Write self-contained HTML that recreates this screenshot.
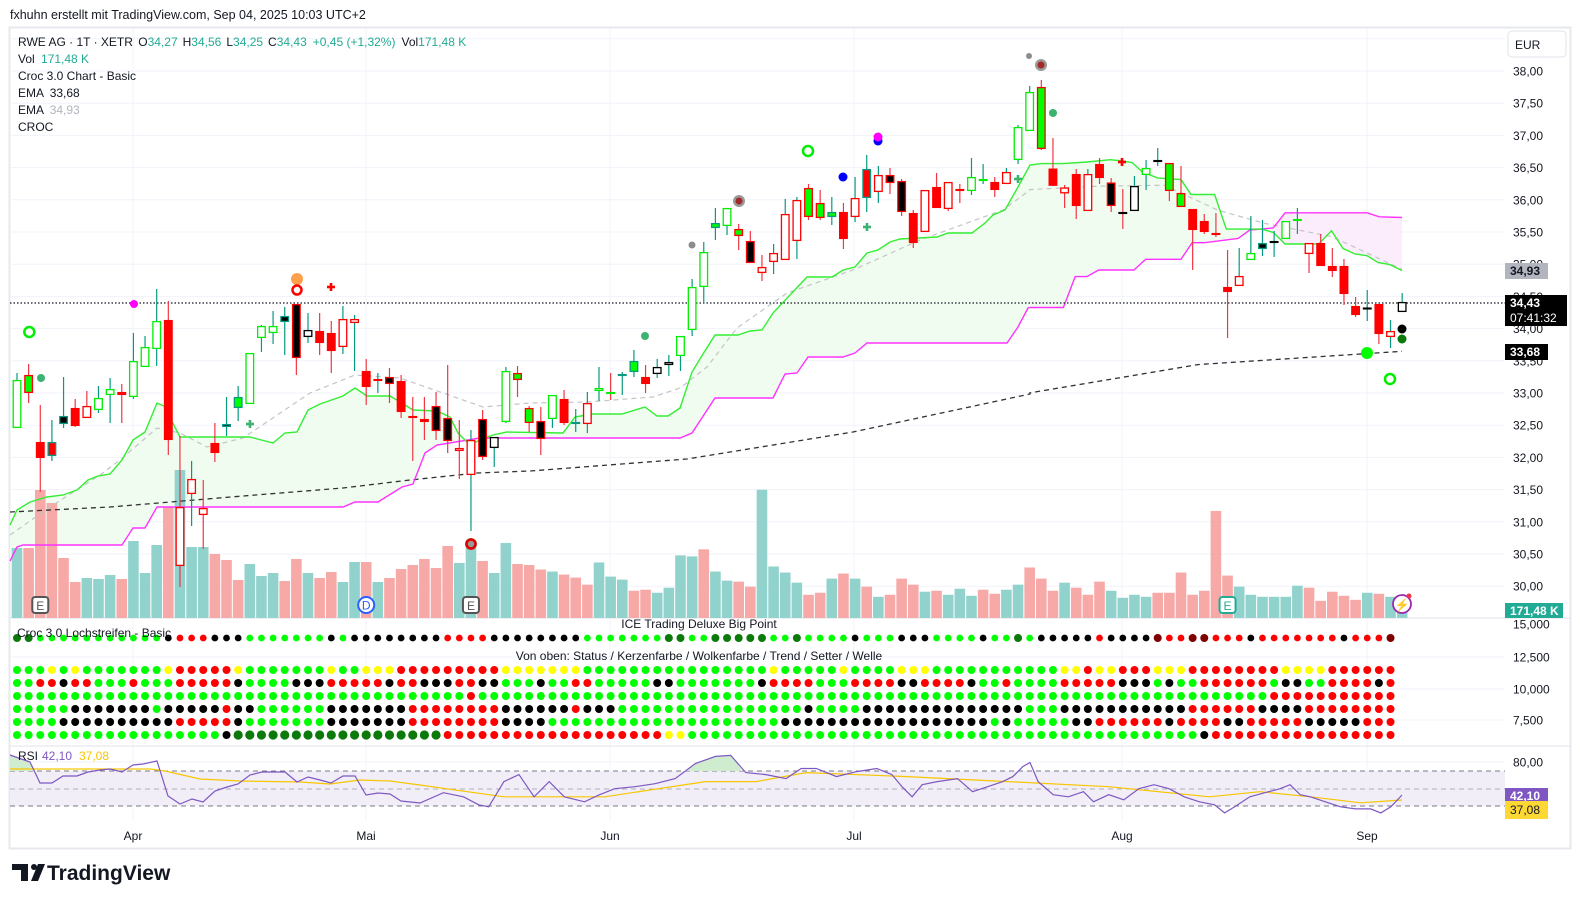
<!DOCTYPE html>
<html><head><meta charset="utf-8">
<style>
html,body{margin:0;padding:0;background:#fff;width:1580px;height:909px;overflow:hidden;font-family:"Liberation Sans",sans-serif;}
svg text{font-family:"Liberation Sans",sans-serif;}
</style></head>
<body>
<svg id="s" width="1580" height="909" xmlns="http://www.w3.org/2000/svg">
<rect x="0" y="0" width="1580" height="909" fill="#fff"/>
<text x="10" y="19" font-size="12.5" fill="#131722">fxhuhn erstellt mit TradingView.com, Sep 04, 2025 10:03 UTC+2</text>
<rect x="9.5" y="27.5" width="1561" height="821" fill="#fff" stroke="#e6e8ee" stroke-width="2"/>
<g id="grid"></g>
<g id="fills"></g>
<g id="vol"></g>
<g id="lines"></g>
<g id="candles"></g>
<g id="marks"></g>
<g id="ind"></g>
<g id="rsi"></g>
<g id="axis"></g>
<g id="legend" font-size="12" fill="#131722">
<text x="18" y="46">RWE AG · 1T · XETR <tspan dx="2">O</tspan><tspan fill="#22ab94">34,27</tspan><tspan dx="5">H</tspan><tspan fill="#22ab94">34,56</tspan><tspan dx="5">L</tspan><tspan fill="#22ab94">34,25</tspan><tspan dx="5">C</tspan><tspan fill="#22ab94">34,43</tspan><tspan dx="6" fill="#22ab94">+0,45 (+1,32%)</tspan><tspan dx="6">Vol</tspan><tspan fill="#22ab94">171,48 K</tspan></text>
<text x="18" y="63">Vol <tspan dx="3" fill="#22ab94">171,48 K</tspan></text>
<text x="18" y="80">Croc 3.0 Chart - Basic</text>
<text x="18" y="97">EMA <tspan dx="3">33,68</tspan></text>
<text x="18" y="114">EMA <tspan dx="3" fill="#b2b5be">34,93</tspan></text>
<text x="18" y="131">CROC</text>
</g>
<g>
<rect x="1508" y="31" width="58" height="26" rx="4" fill="#fff" stroke="#e0e3eb"/>
<text x="1515" y="49" font-size="12" fill="#131722">EUR</text>
</g>
<g transform="translate(12,864)" fill="#131722">
<rect x="0" y="0" width="16" height="6"/><rect x="9" y="0" width="7" height="17"/>
<circle cx="22" cy="3" r="3"/><polygon points="26,0 33,0 26,17 19,17"/>
</g>
<text x="47" y="880" font-size="21" font-weight="bold" fill="#131722">TradingView</text>
</svg>
<script>
var NS="http://www.w3.org/2000/svg";
function el(p,t,a,txt){var e=document.createElementNS(NS,t);for(var k in a)e.setAttribute(k,a[k]);if(txt!==undefined)e.textContent=txt;document.getElementById(p).appendChild(e);return e;}
var S=11.64;function bx(i){return 17+i*S;}
function yp(p){return 71+(38-p)*64.4;}
function fx(x){return 17+(x-17)*1.008;}
function fy(y){return y+(y-70)*0.008+1;}
function z3(p){return [1402-(1108-p[0])/2.977,135.4+(p[1]-15)/3.01];}
for(var p=30;p<=38.5;p+=0.5){var y=yp(p);el('grid','line',{x1:10,x2:1505,y1:y,y2:y,stroke:'#f0f3fa'});}
[657,689,720].forEach(function(y){el('grid','line',{x1:10,x2:1505,y1:y,y2:y,stroke:'#f0f3fa'});});
el('grid','line',{x1:10,x2:1505,y1:762,y2:762,stroke:'#f0f3fa'});
var months=[["Apr",133],["Mai",366],["Jun",610],["Jul",854],["Aug",1122],["Sep",1367]];
months.forEach(function(m){el('grid','line',{x1:m[1],x2:m[1],y1:28,y2:820,stroke:'#f0f3fa'});el('axis','text',{x:m[1],y:840,'font-size':12,'text-anchor':'middle',fill:'#131722'},m[0]);});
el('grid','line',{x1:10,x2:1570,y1:618,y2:618,stroke:'#e0e3eb'});
el('grid','line',{x1:10,x2:1570,y1:746,y2:746,stroke:'#e0e3eb'});
var G=[[10,525],[17,510],[30,502],[47,497],[63,495],[77,490],[88,480],[98,476],[110,474],[122,460],[133,440],[145,432],[157,403],[164,406],[180,437],[250,437],[273,443],[285,433],[297,432],[308,410],[320,404],[343,396],[355,388],[367,396],[390,396],[402,403],[413,410],[437,411],[450,417],[458,433],[470,445],[482,439],[493,435],[507,432],[563,433],[575,417],[592,414],[622,414],[645,407],[657,416],[668,416],[680,408],[692,372],[703,354],[715,335],[738,335],[750,331],[762,330],[773,313],[807,277],[832,277],[843,270],[855,267],[867,253],[878,250],[890,242],[900,239],[937,237],[948,233],[972,233],[985,223],[993,215],[1005,210],[1018,187],[1030,165]];
[[35,100],[100,100],[170,95],[240,88],[275,92],[305,97],[335,125],[380,143],[450,148],[480,193],[550,193],[585,297],[655,297],[690,297],[725,307],[760,342],[860,342],[898,302],[932,355],[968,372],[1004,377],[1037,398],[1072,404],[1108,422]].forEach(function(p){G.push(z3(p));});
var M=[[10,561],[17,547],[23,545],[122,545],[133,528],[145,528],[157,507],[343,507],[355,502],[378,502],[402,487],[413,484],[425,453],[437,445],[480,438],[680,438],[692,433],[715,398],[773,398],[785,374],[797,373],[808,357],[843,357],[855,353],[867,343],[1007,343],[1018,327],[1028,308]];
[[0,533],[100,533],[135,440],[170,440],[205,420],[310,420],[345,388],[450,388],[483,338],[520,338],[620,325],[655,300],[690,297],[725,293],[760,248],[1004,248],[1040,260],[1108,262]].forEach(function(p){M.push(z3(p));});
var E1=[[10,535],[50,507],[100,475],[120,460],[157,428],[180,433],[207,447],[243,438],[310,393],[355,375],[400,378],[483,407],[530,403],[587,402],[653,397],[680,388],[707,367],[737,328],[787,293],[853,270],[920,240],[1003,210],[1030,190]];
[[0,178],[200,168],[400,165],[560,240],[700,280],[900,320],[1108,418]].forEach(function(p){E1.push(z3(p));});
var E2=[[10,512],[110,507],[243,496],[343,488],[410,480],[477,473],[530,471],[687,459],[853,432],[1030,394]];
[[0,790],[500,705],[1108,665]].forEach(function(p){E2.push(z3(p));});
function pts(a){return a.map(function(p){return p[0].toFixed(1)+','+p[1].toFixed(1);}).join(' ');}
el('fills','polygon',{points:pts(G.concat(M.slice().reverse())),fill:'#f1fcf1'});
var pm=[[690,297],[725,293],[760,248],[1004,248],[1040,260],[1108,262],[1108,422],[1072,404],[1037,398],[1004,377],[968,372],[932,355],[898,302],[860,342],[760,342],[725,307]].map(z3);
el('fills','polygon',{points:pts(pm),fill:'#fcedfc'});
var VA=[548,548,490,503,558,582,578,579,575,579,541,573,545,507,470,547,547,554,560,580,564,576,573,581,559,573,578,572,582,562,562,582,578,569,565,559,568,546,563,546,561,573,543,564,565];
var VB=[[565,'r'],[567,'t'],[570,'r'],[573,'r'],[580,'r'],[558,'t'],[572,'t'],[575,'t'],[586,'r'],[585,'r'],[588,'t'],[583,'t'],[551,'t'],[552,'t'],[545,'r'],[567,'t'],[576,'t'],[577,'r'],[582,'r'],[486,'t'],[562,'t'],[568,'t'],[578,'t'],[590,'r'],[588,'r'],[574,'t'],[569,'r'],[574,'t'],[582,'r'],[592,'t'],[590,'r'],[574,'r'],[580,'r'],[587,'t'],[586,'r'],[590,'t'],[584,'t'],[591,'t'],[585,'r'],[589,'r'],[585,'t'],[580,'t'],[563,'r'],[574,'r'],[586,'r'],[578,'t'],[583,'r'],[590,'r'],[577,'r'],[586,'t'],[593,'t'],[590,'t'],[592,'t'],[588,'r'],[588,'r'],[568,'r'],[590,'r'],[586,'r'],[507,'r'],[571,'r'],[582,'t'],[590,'t'],[592,'t'],[592,'t'],[592,'t'],[581,'t'],[583,'r'],[596,'r'],[587,'r'],[591,'r'],[595,'r'],[588,'t'],[589,'r'],[592,'t'],[598,'t']];
var c45=['t','r','r','r','r','r','t','t','t','r','t','t','t','r','t','t','t','r','r','r','t','t','t','r','r','t','r','r','t','t','r','t','r','r','r','r','r','r','t','t','r','t','t','r','r'];
for(var i=0;i<120;i++){var vt,vc;if(i<45){vt=VA[i];vc=c45[i];}else{var v=VB[i-45]||[598,'t'];vt=618-(613-v[0])*1.01;vc=v[1];}
el('vol','rect',{x:bx(i)-5.3,y:vt,width:10.6,height:618-vt,fill:vc=='t'?'#92d2cc':'#f7a9a7'});}
el('lines','polyline',{points:pts(E2),fill:'none',stroke:'#333','stroke-width':1.3,'stroke-dasharray':'5,4'});
el('lines','polyline',{points:pts(E1),fill:'none',stroke:'#c4c4c4','stroke-width':1.2,'stroke-dasharray':'5,4'});
el('lines','polyline',{points:pts(M),fill:'none',stroke:'#ff33ff','stroke-width':1.4});
el('lines','polyline',{points:pts(G),fill:'none',stroke:'#33ee33','stroke-width':1.4});
el('lines','line',{x1:10,x2:1505,y1:303,y2:303,stroke:'#131722','stroke-dasharray':'1.5,2','stroke-width':1.2});
var C=`380,428,373,428,W,g,t
375,393,364,403,G,r,r
442,458,405,492,R,r,r
442,456,420,461,R,t,t
416,424,377,428,K,t,t
408,426,399,427,R,r,r
406,418,391,418,W,r,r
398,410,386,413,W,g,t
389,395,378,423,W,g,t
392,395,384,423,R,r,r
361,397,333,399,W,g,t
347,367,336,367,W,g,t
321,349,289,366,W,g,t
320,440,301,455,R,r,r
507,566,436,587,W,r,r
479,494,461,526,W,r,t
508,515,480,549,W,r,r
443,453,423,462,R,r,r
424,427,397,436,K,t,t
397,408,386,421,G,t,t
353,404,353,404,W,g,t
326,338,325,352,W,g,t
326,333,311,344,W,g,t
316,322,307,355,K,t,t
304,358,304,375,K,r,r
330,337,313,343,W,k,t
331,343,313,355,R,r,r
333,351,321,373,R,r,r
319,347,306,354,W,r,t
319,323,315,371,W,r,t
371,387,359,405,R,r,r
379,381,373,393,R,r,t
377,384,368,403,K,r,r
381,412,375,418,R,r,r
416,418,397,461,R,r,r
419,422,397,440,R,r,r
406,431,392,440,K,r,r
418,441,365,453,K,r,r
448,451,420,479,W,r,r
440,475,430,531,W,r,t
419,457,410,460,K,r,r
437,448,437,467,W,k,t
371,422,367,423,W,g,t
373,380,366,397,G,r,r
408,423,406,432,G,r,r
421,439,407,455,K,r,r
395,419,395,428,W,g,t
399,423,390,425,R,r,r
422,424,409,432,T,t,t
403,424,392,433,W,r,t
388,391,367,401,W,g,t
392,394,373,400,W,g,r
374,376,372,395,T,t,t
361,372,350,377,G,t,t
377,384,365,393,R,r,r
367,374,359,378,W,k,t
362,365,355,376,W,k,t
336,356,336,371,W,g,t
287,330,279,336,W,g,t
252,287,242,303,W,g,t
223,228,208,240,G,t,t
208,226,208,235,W,g,t
229,236,224,250,G,r,r
241,263,231,263,K,r,r
267,273,255,281,W,r,r
253,262,244,274,W,r,t
214,260,199,260,W,r,t
200,241,197,259,W,r,t
188,217,184,220,G,r,r
203,218,190,220,G,r,r
212,217,197,225,G,t,t
212,239,203,249,R,r,r
198,217,177,222,W,r,t
169,198,155,212,R,t,t
175,192,166,203,W,r,t
175,183,168,194,K,r,r
181,212,179,216,K,r,r
213,243,210,248,R,r,r
190,232,190,232,W,r,r
187,208,173,208,R,r,r
182,209,182,211,W,r,r
189,191,184,203,R,r,r
177,191,158,195,W,g,t
179,181,164,184,G,g,t
182,190,177,197,R,r,r
172,184,168,184,W,r,t
127,160,125,164,W,g,t
92,131,86,131,W,g,t
87,149,80,150,G,r,r
168.6,185.8,138,186,R,r,r
187.5,193.4,185,208,W,r,r
174,206,169,219,R,r,r
174,211,169,211,W,r,t
164,178,158,184,R,r,r
182.5,206,178,212,K,r,r
212,214,189,229,K,k,r
186,211,176,211,W,k,t
168,175,160,190,W,g,t
160,162,148,166,K,k,t
163,191,163,201,G,r,r
193,207,166,207,G,r,r
209,230,209,270,R,r,r
221,232,214,234,R,r,r
233,235,213,237,R,r,r
287,292,250,338,R,r,r
276,286,248,286,W,r,t
253,260,216,260,W,g,t
243,249,220,256,K,t,t
241,243,231,257,W,k,t
221,239,221,239,W,g,t
219,221,208,234,G,g,t
243,254,243,273,W,r,r
243,266,234,266,R,r,r
266,271,248,277,R,r,r
266,294,259,305,R,r,r
306,315,297,317,R,r,r
307.5,309.5,290,321,W,k,t
304,334,304,344,R,r,r
331,337,320,348,W,r,t
302,312,293,312,W,k,t`.split('\n');
var FC={W:'#fff',G:'#00ff00',R:'#ff0000',K:'#000',T:'#089981'},SC={g:'#00ee00',r:'#ff0000',t:'#089981',k:'#000'},WC={t:'#089981',r:'#f23645'};
C.forEach(function(l,i){var a=l.split(',');var t=+a[0],b=+a[1],h=+a[2],lo=+a[3];var x=bx(i);
el('candles','line',{x1:x,x2:x,y1:Math.min(h,t),y2:Math.max(lo,b),stroke:WC[a[6]],'stroke-width':1.2});
if(b-t<2){b=t+2;}
el('candles','rect',{x:x-3.8,y:t+0.6,width:7.6,height:b-t-1.2,fill:FC[a[4]],stroke:SC[a[5]],'stroke-width':1.3});});
function ring(x,y,r,c,w){el('marks','circle',{cx:x,cy:y,r:r,fill:'none',stroke:c,'stroke-width':w||2.5});}
function dot(x,y,r,c){el('marks','circle',{cx:x,cy:y,r:r,fill:c});}
function plus(x,y,c){el('marks','rect',{x:x-4,y:y-1.3,width:8,height:2.6,fill:c});el('marks','rect',{x:x-1.3,y:y-4,width:2.6,height:8,fill:c});}
ring(29.3,332,5,'#00ee00');dot(41,378,4,'#3cb371');dot(134,304,4,'#ff00ff');
dot(297,279,6,'#ff9f4a');ring(297,290,4.5,'#ff0000');plus(331,287,'#ff0000');plus(250,424,'#3cb371');
dot(471,544,6,'#999');ring(471,544,4.5,'#e00000');
dot(645,336,4,'#3cb371');dot(692,245,3.5,'#8c8c8c');dot(739,201,6,'#9a9a9a');dot(739,201,3.5,'#a52a2a');
ring(808,151,5,'#00ee00');dot(843,177,4.5,'#0000ff');dot(878,141,4.5,'#0000ff');dot(878,137,4.5,'#ff00ff');
plus(867,227,'#3cb371');plus(1018,179,'#3cb371');dot(1029,56,3,'#8c8c8c');dot(1041,65,6,'#9a9a9a');dot(1041,65,3.5,'#a52a2a');
dot(1053,113,4,'#3cb371');plus(1122,162,'#ff0000');
dot(1367,353,6,'#00ff00');dot(1402,329,4.5,'#000');dot(1402,339,4.5,'#0b7a0b');ring(1390,379,5,'#00ee00');
function ebox(x,c){el('marks','rect',{x:x-8,y:597,width:16,height:16,rx:3,fill:'#fff',stroke:c,'stroke-width':2});el('marks','text',{x:x,y:610,'font-size':12,'text-anchor':'middle',fill:c},'E');}
ebox(bx(2),'#555');ebox(bx(39),'#555');ebox(bx(104),'#22ab94');
el('marks','circle',{cx:bx(30),cy:605,r:8,fill:'#fff',stroke:'#2962ff','stroke-width':2});el('marks','text',{x:bx(30),y:609.5,'font-size':12,'text-anchor':'middle',fill:'#2962ff'},'D');
el('marks','circle',{cx:1402,cy:604,r:9,fill:'#fff',stroke:'#9c27b0','stroke-width':1.8});el('marks','text',{x:1402,y:609,'font-size':12,'text-anchor':'middle',fill:'#9c27b0'},'⚡');dot(1409,596,2.5,'#f23645');
var IC={G:'#00ff00',D:'#0b7a0b',K:'#000',R:'#ff0000',Y:'#ffff00',M:'#800000'};
function rep(c,n){return new Array(n+1).join(c);}
var rows=[
["DD"+rep("G",11)+"K"+"RRR"+"KKK"+rep("G",7)+"K"+"G"+rep("K",8)+"RRRR"+rep("K",8)+rep("G",7)+"DD"+"GG"+"DDDDDGGDGGGGKGGGKKKGGGGKGGDGKKKKKRKKKKMRRMMRRRKRRRRRRRKRRRMMMMM",638,3.4],
["GGGYGYGGGGGGGYRRRRRYGGGGGGGYGGYYYRRRRRRRRRYYYYYYYGGGGGGGGGGG"+"GGGGGYGGGGGYGGGGYYYGGGGGGGGGGGYYRYYRRRYYYRRRRRRRRYYYYRRRRRRR",670,4],
["GGRRKRRGGGRGGGRRRRRKGGGGKKKRRRRRKRRKKKRRKKGGGKGGRRGGGGGKKGGG"+"GGGGKRRRRGGGRRRRKKRRRRKGGRGGGGRRRRRKKKGKGGRRRRRRGKKGGRRRRKRR",683,4],
[rep("G",39)+"R"+rep("G",20)+rep("G",48)+rep("R",11),696,4],
["GGGGGKKKKKKKGKKKKKRKKGGGGGGKKKKKKKRRRRRRRRKKKKKKRKKKGGGGGGGG"+"GGGGGGGGKGGGGKKKKKKKKKKKKKKGGGKKKKKKKKKKKRRRRRRKKKKRRRRRRRR",709,4],
["GGGGKKKKKKKKKKRRRRRKGGGGGGGKKKKKKKRRRRRRRRKKKKGGGGGGGGGGGGGG"+"GGGGGGKKKKKKKKKKKKKKKKKKGKGGGGGKKRRRRRRKRRRRKKRRRRRKKKKKRRRR",722,4],
[rep("G",18)+"K"+rep("D",18)+rep("R",19)+"YY"+"GG"+rep("G",42)+"K"+rep("R",16),735,4]];
rows.forEach(function(r){var s=r[0];for(var i=0;i<119;i++){var ch=s.charAt(i)||'R';var rr=r[2];if(ch=='M'||ch=='D')rr=r[2]+0.6;el('ind','circle',{cx:bx(i),cy:r[1],r:rr,fill:IC[ch]});}});
el('ind','text',{x:17,y:637,'font-size':12,fill:'#131722'},'Croc 3.0 Lochstreifen - Basic');
el('ind','text',{x:699,y:628,'font-size':12,'text-anchor':'middle',fill:'#131722'},'ICE Trading Deluxe Big Point');
el('ind','text',{x:699,y:660,'font-size':12,'text-anchor':'middle',fill:'#131722'},'Von oben: Status / Kerzenfarbe / Wolkenfarbe / Trend / Setter / Welle');
el('rsi','rect',{x:10,y:771,width:1495,height:35,fill:'#f1eef8'});
[771,789,806].forEach(function(y){el('rsi','line',{x1:10,x2:1505,y1:y,y2:y,stroke:y==789?'#b0b0b8':'#787b86','stroke-dasharray':'5,4'});});
var R1=[[10,755],[30,762],[40,783],[52,783],[63,776],[77,776],[88,772],[100,770],[110,769],[122,772],[133,765],[143,764],[157,761],[168,796],[180,804],[192,799],[203,802],[215,791],[227,787],[238,784],[250,775],[262,772],[285,772],[297,782],[308,777],[320,780],[331,783],[343,776],[355,776],[366,795],[378,793],[390,794],[401,801],[420,803]];
var R1b=[[440,786],[460,790],[475,798],[485,800],[500,775],[515,768],[530,790],[545,775],[560,790],[580,795],[595,788],[610,782],[630,780],[650,777],[670,772],[690,757],[710,750],[725,749],[740,766],[760,768],[780,772],[795,762],[810,762],[830,770],[850,765],[870,762],[885,768],[895,780],[905,790],[915,778],[930,775],[950,772],[965,785],[980,780],[995,775],[1005,770],[1015,760],[1022,756],[1030,775],[1045,788],[1060,790],[1075,785],[1085,795],[1100,788],[1115,793],[1130,782],[1145,778],[1160,782],[1175,790],[1190,795],[1205,798],[1215,806],[1225,800],[1240,790],[1255,786],[1270,782],[1280,778],[1290,788],[1300,790],[1315,795],[1330,800],[1345,802],[1360,802],[1370,806],[1380,800]];
R1b.forEach(function(p){R1.push([fx(p[0]),fy(p[1])]);});R1.push([1402,795]);
var Y1=[[10,769],[150,769],[165,771],[200,779],[240,781],[300,782],[330,784],[360,780],[390,781],[420,785],[fx(500),fy(790)],[fx(600),fy(790)],[fx(700),fy(775)],[fx(750),fy(775)],[fx(800),fy(766)],[fx(900),fy(770)],[fx(1000),fy(775)],[fx(1100),fy(780)],[fx(1200),fy(790)],[fx(1250),fy(785)],[fx(1300),fy(790)],[fx(1350),fy(796)],[1402,800]];
el('rsi','polygon',{points:'10,771 10,755 30,762 35,771',fill:'#cfeccf'});
el('rsi','polygon',{points:pts([[fx(680),771],[fx(690),fy(757)],[fx(710),fy(750)],[fx(725),fy(749)],[fx(737),771]]),fill:'#cfeccf'});
el('rsi','polyline',{points:pts(Y1),fill:'none',stroke:'#f7c600','stroke-width':1.2});
el('rsi','polyline',{points:pts(R1),fill:'none',stroke:'#7e57c2','stroke-width':1.2});
el('rsi','text',{x:18,y:760,'font-size':12,fill:'#131722'},'RSI');
el('rsi','text',{x:42,y:760,'font-size':12,fill:'#7e57c2'},'42,10');
el('rsi','text',{x:79,y:760,'font-size':12,fill:'#f7c600'},'37,08');
for(var p=30;p<=38;p+=0.5){el('axis','text',{x:1513,y:yp(p)+4.5,'font-size':12,fill:'#131722'},p.toFixed(2).replace('.',','));}
[['15,000',624],['12,500',657],['10,000',689],['7,500',720],['80,00',762]].forEach(function(l){el('axis','text',{x:1513,y:l[1]+4.5,'font-size':12,fill:'#131722'},l[0]);});
function lab(y,h,w,bg,fg,t,t2){el('axis','rect',{x:1505,y:y,width:w,height:h,fill:bg});el('axis','text',{x:1510,y:y+12,'font-size':12,'font-weight':'bold',fill:fg},t);if(t2)el('axis','text',{x:1510,y:y+27,'font-size':12,fill:fg},t2);}
lab(263,16,43,'#b2b5be','#131722','34,93');
lab(295,31,62,'#000','#fff','34,43','07:41:32');
lab(344,16,43,'#000','#fff','33,68');
lab(603,15,58,'#22ab94','#fff','171,48 K');
lab(788,13,43,'#7e57c2','#fff','42,10');
el('axis','rect',{x:1505,y:801,width:43,height:18,fill:'#fdd835'});el('axis','text',{x:1510,y:814,'font-size':12,fill:'#131722'},'37,08');
</script>
</body></html>
